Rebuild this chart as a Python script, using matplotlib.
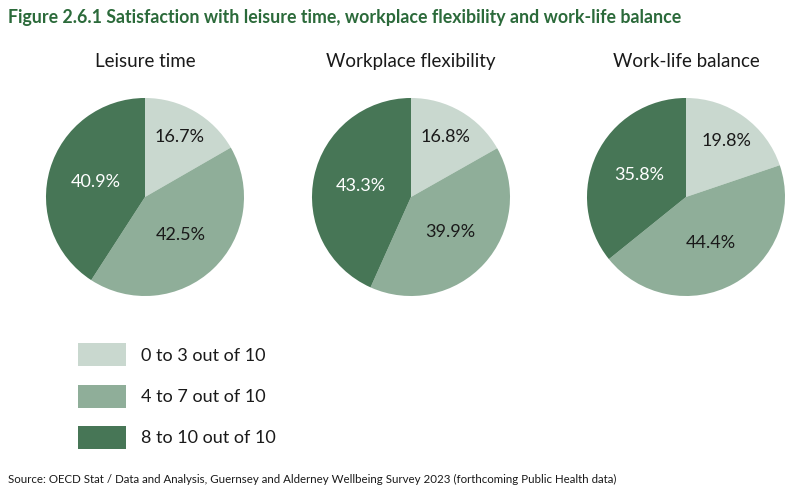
import numpy as np
import matplotlib
matplotlib.use("Agg")
import matplotlib.pyplot as plt
import matplotlib.patches as mpatches

plt.rcParams['font.family'] = ['Lato', 'DejaVu Sans']

# Data
titles = ["Leisure time", "Workplace flexibility", "Work-life balance"]
categories = ["0 to 3 out of 10", "4 to 7 out of 10", "8 to 10 out of 10"]
leisure = [16.7, 42.5, 40.9]
flexibility = [16.8, 39.9, 43.3]
balance = [19.8, 44.4, 35.8]
values = [leisure, flexibility, balance]

colors = ["#C9D8CF", "#8FAE99", "#477656"]
label_colors = ["#1a1a1a", "#1a1a1a", "white"]
label_dist = [0.70, 0.53, 0.52]

W, H = 800, 501
fig = plt.figure(figsize=(W / 100, H / 100), dpi=100)

# pie centres in pixels (x) and radius
centres_x = [145, 411, 686]
cy, r = 197, 100

for cx, vals, title in zip(centres_x, values, titles):
    ax = fig.add_axes([(cx - r) / W, (H - cy - r) / H, 2 * r / W, 2 * r / H])
    wedges, _ = ax.pie(vals, colors=colors, startangle=90, counterclock=False,
                       radius=1, wedgeprops=dict(linewidth=0))
    for w, v, c, d in zip(wedges, vals, label_colors, label_dist):
        ang = np.deg2rad((w.theta1 + w.theta2) / 2)
        ax.text(d * np.cos(ang), d * np.sin(ang), f"{v:.1f}%", ha='center',
                va='center', fontsize=13, color=c)
    ax.set_xlim(-1.01, 1.01)
    ax.set_ylim(-1.01, 1.01)
    fig.text(cx / W, 1 - 62 / H, title, ha='center', va='center', fontsize=13.5,
             color='#1a1a1a')

fig.text(8 / W, 1 - 17 / H,
         "Figure 2.6.1 Satisfaction with leisure time, workplace flexibility and work-life balance",
         ha='left', va='center', fontsize=12.8, fontweight='bold', color='#2B6A3A')

handles = [mpatches.Patch(facecolor=c, edgecolor='none', label=l)
           for c, l in zip(colors, categories)]
fig.legend(handles=handles, loc='upper left', bbox_to_anchor=(62 / W, 1 - 327 / H),
           frameon=False, fontsize=13, handlelength=2.65, handleheight=1.6,
           labelspacing=1.0, handletextpad=0.8, labelcolor='#1a1a1a')

fig.text(8 / W, 1 - 479 / H,
         "Source: OECD Stat / Data and Analysis, Guernsey and Alderney Wellbeing Survey 2023 (forthcoming Public Health data)",
         ha='left', va='center', fontsize=8.3, color='#1a1a1a')

fig.savefig("out.png", dpi=100, facecolor='white')
